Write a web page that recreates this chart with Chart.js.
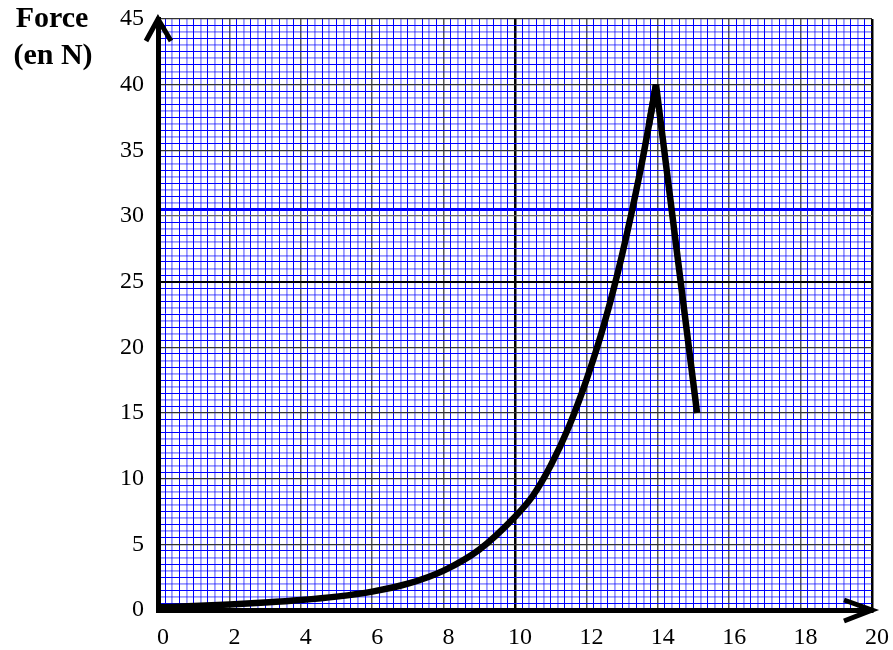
<!DOCTYPE html>
<html>
<head>
<meta charset="utf-8">
<script src="https://cdn.jsdelivr.net/npm/chart.js@4.4.1/dist/chart.umd.min.js"></script>
<style>
    body { margin: 0; background: #fff; }
    #wrap { width: 893px; height: 650px; position: relative; }
</style>
</head>
<body>
<div id="wrap"><canvas id="chartForce"></canvas></div>
<script>
// Courbe montante
const riseX = [0, 1, 2, 3, 4, 5, 6, 7, 8, 9, 10, 10.5, 11, 11.5, 12, 12.5, 13, 13.5, 13.75, 13.95];
const riseY = [0.2, 0.3, 0.42, 0.57, 0.76, 1.02, 1.4, 2.0, 3.0, 4.6, 7.1, 8.7, 11.0, 13.9, 17.5, 21.8, 27.05, 33.3, 36.9, 40];
// Chute après le maximum
const fallX = [13.75, 13.95, 15.1];
const fallY = [36.9, 40, 15];

// Axes
const xMin = 0, xMax = 20, xStep = 0.2, xLabelEvery = 2;
const yMin = 0, yMax = 45, yStep = 0.5, yLabelEvery = 5;
const yTitle = ['Force', '(en N)'];

const SERIF = '"Liberation Serif", "Times New Roman", serif';

function isMultiple(v, m) {
    return Math.abs(v / m - Math.round(v / m)) < 1e-6;
}
function near(v, t) {
    return Math.abs(v - t) < 1e-6;
}

function toPoints(xs, ys) {
    return xs.map((x, i) => ({ x: x, y: ys[i] }));
}

// Couleurs du papier millimétré
function xGridColor(ctx) {
    const v = ctx.tick.value;
    if (isMultiple(v, 10)) return '#000';
    if (isMultiple(v, 2)) return '#555';
    return isMultiple(v, 0.4) ? 'rgba(0,0,255,0.4)' : '#0000ff';
}
function xGridWidth(ctx) {
    const v = ctx.tick.value;
    if (isMultiple(v, 10)) return 2.5;
    if (isMultiple(v, 2)) return 1.5;
    return isMultiple(v, 0.4) ? 1.8 : 1;
}
function yGridColor(ctx) {
    const v = ctx.tick.value;
    if (near(v, 30.5)) return '#0000ff';
    if (near(v, 25)) return '#000';
    if (isMultiple(v, 5)) return near(v, 30) ? '#666' : '#333';
    return isMultiple(v, 1) ? 'rgba(0,0,255,0.4)' : '#0000ff';
}
function yGridWidth(ctx) {
    const v = ctx.tick.value;
    if (near(v, 30.5)) return 3;
    if (near(v, 25)) return 2;
    if (isMultiple(v, 5)) return 1.3;
    return isMultiple(v, 1) ? 1.8 : 1;
}

// Flèches des axes + titre de l'axe vertical
const axesDecor = {
    id: 'axesDecor',
    afterDraw(chart) {
        const c = chart.ctx;
        const xs = chart.scales.x, ys = chart.scales.y;
        const x0 = xs.getPixelForValue(xMin);
        const x1 = xs.getPixelForValue(xMax);
        const y0 = ys.getPixelForValue(yMin);
        const y1 = ys.getPixelForValue(yMax);
        c.save();
        c.strokeStyle = '#000';
        c.lineWidth = 5;
        c.lineJoin = 'miter';
        c.beginPath();
        c.moveTo(x0 - 12, y1 + 22);
        c.lineTo(x0, y1);
        c.lineTo(x0 + 13, y1 + 22);
        c.stroke();
        c.beginPath();
        c.moveTo(x1 - 28, y0 - 10);
        c.lineTo(x1, y0);
        c.lineTo(x1 - 28, y0 + 11);
        c.stroke();

        c.fillStyle = '#000';
        c.font = 'bold 30px ' + SERIF;
        c.textAlign = 'center';
        c.textBaseline = 'alphabetic';
        c.fillText(yTitle[0], 52, 27);
        c.fillText(yTitle[1], 53, 64);
        c.restore();
    }
};

new Chart(document.getElementById('chartForce'), {
    type: 'line',
    data: {
        datasets: [{
            data: toPoints(riseX, riseY),
            borderColor: '#000',
            borderWidth: 6.5,
            pointRadius: 0,
            cubicInterpolationMode: 'monotone',
            fill: false
        }, {
            data: toPoints(fallX, fallY),
            borderColor: '#000',
            borderWidth: 6.5,
            borderJoinStyle: 'bevel',
            pointRadius: 0,
            tension: 0,
            fill: false
        }]
    },
    plugins: [axesDecor],
    options: {
        responsive: true,
        maintainAspectRatio: false,
        animation: false,
        layout: { padding: { top: 19, right: 21, left: 0, bottom: 0 } },
        plugins: {
            legend: { display: false },
            tooltip: { enabled: false }
        },
        scales: {
            x: {
                type: 'linear',
                min: xMin,
                max: xMax,
                afterFit(scale) {
                    scale.height = 40;
                    scale.paddingLeft = 0;
                    scale.paddingRight = 0;
                },
                border: { display: true, color: '#000', width: 5 },
                grid: { color: xGridColor, lineWidth: xGridWidth, drawTicks: false },
                ticks: {
                    stepSize: xStep,
                    autoSkip: false,
                    maxRotation: 0,
                    padding: 13,
                    labelOffset: 5,
                    color: '#000',
                    font: { family: SERIF, size: 24 },
                    callback: v => isMultiple(v, xLabelEvery) ? String(Math.round(v)) : ''
                }
            },
            y: {
                type: 'linear',
                min: yMin,
                max: yMax,
                afterFit(scale) {
                    scale.width = 158;
                    scale.paddingTop = 0;
                    scale.paddingBottom = 0;
                },
                border: { display: true, color: '#000', width: 5 },
                grid: { color: yGridColor, lineWidth: yGridWidth, drawTicks: false },
                ticks: {
                    stepSize: yStep,
                    autoSkip: false,
                    padding: 14,
                    color: '#000',
                    font: { family: SERIF, size: 24 },
                    callback: v => isMultiple(v, yLabelEvery) ? String(Math.round(v)) : ''
                }
            }
        }
    }
});
</script>
</body>
</html>
